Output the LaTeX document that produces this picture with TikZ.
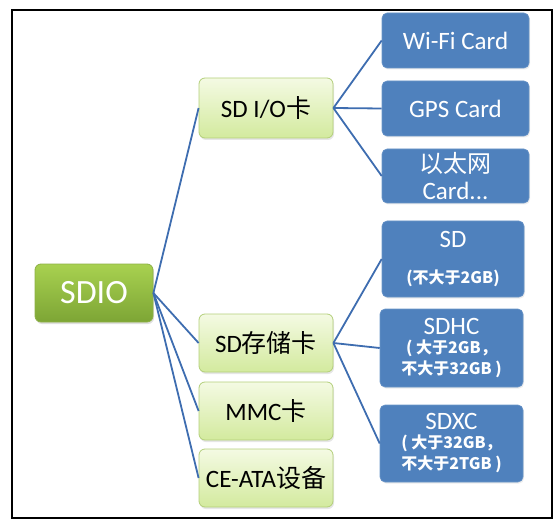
\documentclass[tikz,border=0pt]{standalone}
\usepackage{fontspec}
\setmainfont{Carlito}
\newfontfamily\cjk{Noto Sans CJK SC}
\newcommand{\zh}[1]{{\cjk #1}}
\newcommand{\zb}[1]{{\cjk\bfseries\fontsize{16}{19}\selectfont #1}}
\usetikzlibrary{shadows}
\definecolor{rootTop}{HTML}{A8D150}
\definecolor{rootBot}{HTML}{7DA535}
\definecolor{rootLine}{HTML}{8DB045}
\definecolor{midTop}{HTML}{F4FAE3}
\definecolor{midBot}{HTML}{D3EA9E}
\definecolor{midLine}{HTML}{B3CF7A}
\definecolor{cardBlue}{HTML}{4F81BD}
\definecolor{cardLine}{HTML}{6A95C8}
\definecolor{linkBlue}{HTML}{3E6DB0}
\tikzset{
  rootbox/.style={draw=rootLine, line width=0.8pt, rounded corners=6pt,
    top color=rootTop, bottom color=rootBot, text=white,
    minimum width=118pt, minimum height=58pt, inner sep=0pt,
    font=\fontsize{34}{40}\selectfont,
    drop shadow={shadow xshift=1pt, shadow yshift=-2pt, opacity=0.25}},
  midbox/.style={draw=midLine, line width=0.8pt, rounded corners=6pt,
    top color=midTop, bottom color=midBot, text=black,
    minimum width=134pt, inner sep=0pt,
    font=\fontsize{25}{30}\selectfont,
    drop shadow={shadow xshift=1pt, shadow yshift=-2pt, opacity=0.2}},
  cardbox/.style={draw=cardLine, line width=0.6pt, rounded corners=5pt,
    fill=cardBlue, text=white, inner sep=0pt, align=center,
    font=\fontsize{25}{28}\selectfont,
    drop shadow={shadow xshift=1pt, shadow yshift=-1.5pt, opacity=0.15}},
  link/.style={draw=linkBlue, line width=1.8pt}
}
\begin{document}
\begin{tikzpicture}[x=1pt,y=-1pt]
\useasboundingbox (0,0) rectangle (556,521);
\draw[line width=2pt] (12,10) rectangle (552,518);

\node[rootbox] (root) at (94,293) {SDIO};

\node[midbox, minimum height=60pt] (io) at (266,108) {SD I/O\zh{卡}};
\node[midbox, minimum height=58pt] (mem) at (266,343) {SD\zh{存储卡}};
\node[midbox, minimum height=58pt] (mmc) at (266,411) {MMC\zh{卡}};
\node[midbox, minimum height=58pt] (ata) at (266,478) {CE-ATA\zh{设备}};

\node[cardbox, minimum width=147pt, minimum height=55pt] (wifi) at (455.5,40.5) {Wi-Fi Card};
\node[cardbox, minimum width=147pt, minimum height=55pt] (gps) at (455.5,108.5) {GPS Card};
\node[cardbox, minimum width=147pt, minimum height=54pt] (eth) at (455.5,176)
  {\zh{\fontsize{24}{25}\selectfont 以太网}\\[-1pt]Card...};

\node[cardbox, minimum width=142pt, minimum height=76pt] (sd) at (453,259)
  {SD\\[8pt]\zb{(不大于2GB)}};
\node[cardbox, minimum width=143pt, minimum height=78pt] (sdhc) at (451.5,348)
  {SDHC\\[-9pt]\zb{( 大于2GB，}\\[-7pt]\zb{不大于32GB )}};
\node[cardbox, minimum width=143pt, minimum height=77pt] (sdxc) at (451.5,443.5)
  {SDXC\\[-9pt]\zb{( 大于32GB，}\\[-7pt]\zb{不大于2TGB )}};

\foreach \t in {io,mem,mmc,ata} \draw[link] (root.east) -- (\t.west);
\foreach \t in {wifi,gps,eth} \draw[link] (io.east) -- (\t.west);
\foreach \t in {sd,sdhc,sdxc} \draw[link] (mem.east) -- (\t.west);
\end{tikzpicture}
\end{document}
